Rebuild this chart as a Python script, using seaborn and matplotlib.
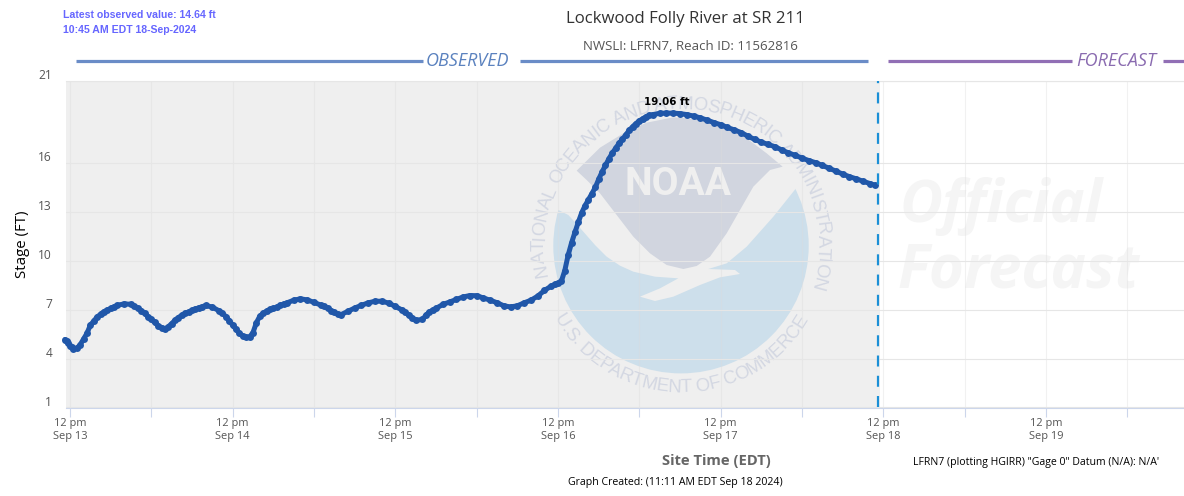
import numpy as np
import pandas as pd
import matplotlib
matplotlib.use("Agg")
import matplotlib.pyplot as plt
from matplotlib.patches import Circle, Polygon, Rectangle
from matplotlib.font_manager import FontProperties
from matplotlib.textpath import text_to_path
from matplotlib.transforms import ScaledTranslation
import seaborn as sns

# ---- data: hours after 12 pm Sep 13 and stage in feet ----
obs_hours = [-0.75,-0.5,-0.25,0,0.25,0.5,1,1.5,2,2.5,3,3.5,4,4.5,5,5.5,6,6.5,7,8,9,9.5,10,10.5,11,11.5,12,12.5,13,13.5,14,14.5,15,15.5,16,16.5,17,17.5,18,18.5,19,19.5,20,21,22,22.5,23,23.5,24,24.5,25,25.5,26,26.5,27,27.5,28,28.5,29,29.5,30,30.5,31,31.5,32,33,34,35,36,37,37.5,38,38.5,39,39.5,40,41,42,43,44,45,46,47,48,49,49.5,50,50.5,51,52,52.5,53,53.5,54,55,56,57,58,59,60,61,62,63,64,65,66,67,68,69,70,71,71.5,72,72.5,73,73.5,74,74.5,75,75.5,76,76.5,77,77.5,78,78.5,79,79.5,80,80.5,81,81.5,82,82.5,83,83.5,84,84.5,85,85.5,86,87,88,89,90,91,92,93,94,95,96,97,98,99,100,101,102,103,104,105,106,107,108,109,110,111,112,113,114,115,116,117,118,118.75]
obs_stage = [5.17,5.05,4.95,4.8,4.7,4.6,4.62,4.85,5.2,5.55,6.05,6.3,6.55,6.72,6.88,6.98,7.08,7.18,7.27,7.36,7.33,7.22,7.08,6.95,6.78,6.58,6.4,6.22,6.03,5.9,5.82,5.95,6.15,6.35,6.52,6.66,6.78,6.87,6.96,7.04,7.12,7.18,7.26,7.16,6.93,6.78,6.58,6.33,6.05,5.8,5.55,5.38,5.3,5.33,5.6,6.2,6.6,6.78,6.92,7.02,7.08,7.16,7.26,7.35,7.42,7.58,7.67,7.6,7.45,7.28,7.2,7.1,6.95,6.83,6.72,6.7,6.9,7.1,7.27,7.42,7.52,7.52,7.41,7.2,6.98,6.83,6.65,6.5,6.35,6.4,6.65,6.85,6.98,7.08,7.32,7.47,7.63,7.78,7.87,7.86,7.72,7.58,7.43,7.24,7.17,7.24,7.42,7.58,7.83,8.18,8.45,8.55,8.62,8.75,9.4,10.35,11.1,11.75,12.37,12.95,13.39,13.75,14.12,14.5,15.0,15.45,15.85,16.25,16.6,16.9,17.2,17.45,17.72,18.0,18.22,18.42,18.58,18.72,18.84,18.92,18.97,19.05,19.06,19.06,19.03,18.97,18.88,18.77,18.63,18.48,18.35,18.18,18.03,17.87,17.65,17.45,17.28,17.14,17.0,16.8,16.62,16.47,16.3,16.15,16.02,15.85,15.68,15.5,15.32,15.16,15.03,14.88,14.74,14.64]
y_ticks = [1, 4, 7, 10, 13, 16, 21]
x_grid_hours = list(range(0, 157, 12))
x_label_hours = [0, 24, 48, 72, 96, 120, 144]
x_labels = ["12 pm\nSep 13", "12 pm\nSep 14", "12 pm\nSep 15", "12 pm\nSep 16",
            "12 pm\nSep 17", "12 pm\nSep 18", "12 pm\nSep 19"]
peak_label = "19.06 ft"
peak_hour = 88.0
peak_stage = 19.06
now_hour = 119.25

W, H = 1184, 496
sns.set_theme(style="white")
plt.rcParams["font.family"] = ["Open Sans", "DejaVu Sans"]
px = 0.72  # points per pixel at dpi 100

fig = plt.figure(figsize=(W / 100, H / 100), dpi=100, facecolor="white")

# ---- background layer in pixel coordinates ----
bg = fig.add_axes([0, 0, 1, 1], zorder=0)
bg.set_xlim(0, W)
bg.set_ylim(H, 0)
bg.axis("off")
PANEL = "#efefef"
bg.add_patch(Rectangle((66, 81), 814, 326, fc=PANEL, ec="none"))

cx, cy, R = 681, 245.7, 127.7
BLUE, GRAY, RING = "#cddfeb", "#d1d5df", "#d3d7e2"
bg.add_patch(Circle((cx, cy), R, fc=BLUE, ec="none", zorder=1))


def z(points):
    return [(540 + a / 3, 100 + b / 3) for a, b in points]


cover = [(0, 330), (55, 330), (85, 345), (108, 370), (130, 395), (165, 435), (200, 470), (240, 497),
         (280, 515), (345, 530), (415, 535), (360, 565), (300, 590), (345, 603), (400, 590), (480, 555),
         (540, 532), (600, 522), (585, 510), (505, 507), (560, 490), (620, 440), (660, 395), (700, 350),
         (768, 265), (850, 265), (850, 20), (0, 20)]
bg.add_patch(Polygon(z(cover), closed=True, fc=PANEL, ec="none", zorder=2))
gull = [(110, 212), (180, 143), (250, 100), (320, 68), (400, 52), (480, 58), (550, 78), (620, 115),
        (680, 160), (728, 200), (690, 210), (640, 260), (600, 330), (560, 400), (510, 470), (470, 498),
        (430, 507), (380, 495), (330, 460), (280, 410), (230, 345), (180, 280), (140, 240)]
bg.add_patch(Polygon(z(gull), closed=True, fc=GRAY, ec="none", zorder=3))
bg.text(678, 184.5, "NOAA", family=["Liberation Sans Narrow", "Roboto"], weight="bold",
        fontsize=39 * px, color=PANEL, ha="center", va="center", zorder=4)


def ring(text, start, end, radius, upper):
    fp = FontProperties(family="Liberation Sans", size=18.5 * px)
    widths = [text_to_path.get_text_width_height_descent(c, fp, False)[0] for c in text]
    total = sum(widths)
    pos = 0.0
    for c, w in zip(text, widths):
        a = np.deg2rad(start + (end - start) * (pos + w / 2) / total)
        pos += w
        if c == " ":
            continue
        rot = np.rad2deg(a) - 90 if upper else np.rad2deg(a) + 90
        bg.text(cx + radius * np.cos(a), cy - radius * np.sin(a), c, fontproperties=fp, color=RING,
                rotation=rot, rotation_mode="anchor", ha="center", va="center", zorder=4)


ring("NATIONAL OCEANIC AND ATMOSPHERIC ADMINISTRATION", 192.5, -18, 141.5, True)
ring("U.S. DEPARTMENT OF COMMERCE", 209.5, 330, 142, False)

for word, yb, fx, size in (("Official", 222, 899, 59), ("Forecast", 288, 897, 60)):
    bg.text(fx, yb, word, fontsize=size * px, style="italic", weight="bold", color="#f5f5f5",
            ha="left", va="baseline", zorder=1)

# ---- chart layer ----
L, Rt, T, B = 66, 1184, 81, 407.5
ax = fig.add_axes([L / W, 1 - B / H, (Rt - L) / W, (B - T) / H], zorder=1)
ax.patch.set_visible(False)
ppd = (1046 - 70) / 144
ax.set_xlim((L - 70) / ppd, (Rt - 70) / ppd)
ax.set_ylim(1, 1 + (B - T) / 16.3)

ax.set_yticks(y_ticks)
ax.set_xticks(x_grid_hours, minor=True)
ax.set_xticks(x_label_hours)
ax.set_xticklabels(x_labels)
ax.grid(True, axis="y", color="#e6e6e6", lw=0.8)
ax.grid(True, axis="x", which="both", color="#dcdcdc", alpha=0.4, lw=0.8)
ax.set_axisbelow(True)
for s in ("left", "right"):
    ax.spines[s].set_visible(False)
ax.spines["top"].set_color("#e6e6e6")
ax.spines["top"].set_linewidth(0.8)
ax.spines["bottom"].set_color("#ccd6eb")
ax.spines["bottom"].set_linewidth(0.8)
ax.tick_params(axis="x", which="both", length=6.5, width=0.8, color="#ccd6eb", bottom=True,
               labelsize=11 * px, labelcolor="#555555", pad=1)
ax.tick_params(axis="y", length=0, labelsize=12 * px, labelcolor="#555555", pad=10)
for lab in ax.get_yticklabels():
    lab.set_verticalalignment("baseline")
    lab.set_transform(lab.get_transform() + ScaledTranslation(0, 2 / 100, fig.dpi_scale_trans))

frame = pd.DataFrame({"hour": obs_hours, "stage": obs_stage})
sns.lineplot(data=frame, x="hour", y="stage", ax=ax, color="#2057a9", lw=3.6, marker="o",
             markersize=5.0, markeredgewidth=0, estimator=None, sort=False, clip_on=False, zorder=5)
ax.set_xlabel("")
ax.set_ylabel("")
ax.plot([now_hour] * 2, [1, 1 + (B - T) / 16.3], color="#1a8fd6", lw=2 * px * 1.1,
        dashes=(5, 4.2), zorder=6)
ax.annotate(peak_label, (peak_hour, peak_stage), xytext=(0.5, 4.5), textcoords="offset points",
            ha="center", va="bottom", family="DejaVu Sans", weight="bold", fontsize=10.3 * px, color="black", zorder=7)

# ---- header and footer text ----
bg.text(685, 19, "Lockwood Folly River at SR 211", fontsize=16.75 * px, color="#333333", ha="center", va="center")
bg.text(690, 46, "NWSLI: LFRN7, Reach ID: 11562816", fontsize=13.2 * px, color="#555555", ha="center", va="center")
bg.text(63, 15, "Latest observed value: 14.64 ft", family="Liberation Sans", weight="bold",
        fontsize=10.5 * px, color="#6666ff", ha="left", va="center")
bg.text(63, 30, "10:45 AM EDT 18-Sep-2024", family="Liberation Sans", weight="bold",
        fontsize=10.5 * px, color="#6666ff", ha="left", va="center")

OBS, FCST = "#6a8cc7", "#916fb5"
for a, b in ((76, 423), (520, 868)):
    bg.plot([a, b], [61, 61], color=OBS, lw=3.2 * px, solid_capstyle="butt")
for a, b in ((888, 1072), (1163, 1184)):
    bg.plot([a, b], [61, 61], color=FCST, lw=3.2 * px, solid_capstyle="butt")
bg.text(467.5, 61, "OBSERVED", style="italic", fontsize=18 * px, color="#5b82bf", ha="center", va="center")
bg.text(1116.5, 61, "FORECAST", style="italic", fontsize=18 * px, color="#8a6bb0", ha="center", va="center")

bg.text(22, 244, "Stage (FT)", rotation=90, fontsize=15 * px, color="black", ha="center", va="center")
bg.text(716, 460.5, "Site Time (EDT)", weight="bold", fontsize=14.7 * px, color="#666666", ha="center", va="center")
bg.text(1036, 462, 'LFRN7 (plotting HGIRR) "Gage 0" Datum (N/A): N/A\'', fontsize=10.5 * px, color="black",
        ha="center", va="center")
bg.text(675, 482, "Graph Created: (11:11 AM EDT Sep 18 2024)", fontsize=10.5 * px, color="black",
        ha="center", va="center")

fig.savefig("out.png", dpi=100, facecolor="white")
